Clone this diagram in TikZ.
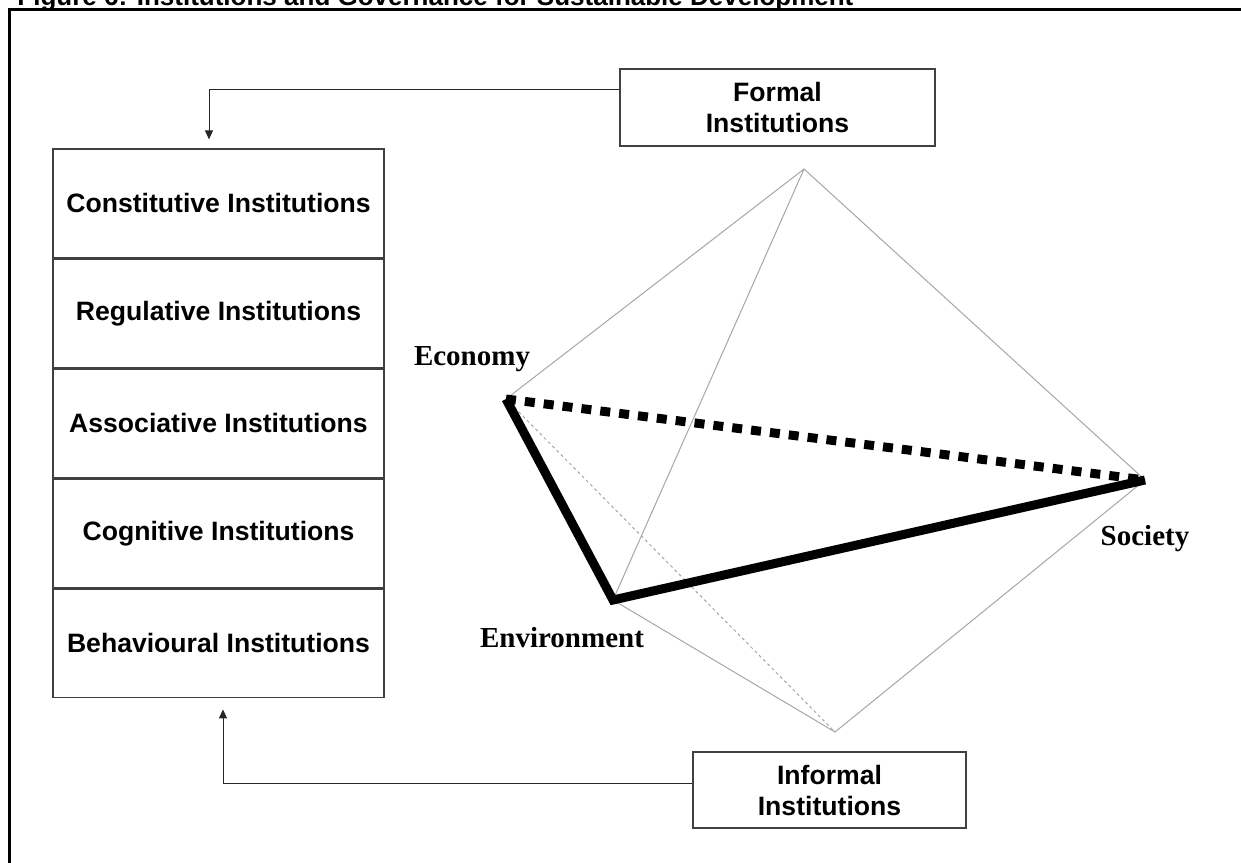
\documentclass[tikz,border=0pt]{standalone}
\usepackage{fontspec}
\setmainfont{Liberation Serif}
\setsansfont{Liberation Sans}
\usetikzlibrary{positioning,arrows.meta}
\tikzset{
  instbox/.style={draw=black!75, line width=0.6pt, minimum width=165.5pt, minimum height=54.4pt,
    inner sep=0pt, font=\sffamily\bfseries\fontsize{13.3}{15.5}\selectfont},
  sidebox/.style={draw=black!75, line width=0.6pt, inner sep=0pt, align=center,
    font=\sffamily\bfseries\fontsize{13.3}{15.5}\selectfont},
  flow/.style={draw=black!85, line width=0.5pt, -{Triangle[length=4.5pt,width=4pt]}},
  edgethin/.style={draw=black!35, line width=0.5pt},
  edgethick/.style={line width=4.5pt, line cap=butt},
  pole/.style={font=\rmfamily\bfseries\fontsize{14.5}{17}\selectfont, inner sep=0pt, anchor=base},
}
\begin{document}
\begin{tikzpicture}[x=0.5pt,y=-0.5pt]
\useasboundingbox (0,0) rectangle (1241,862);
\begin{scope}
  \clip (0,0) rectangle (1241,862);
  % caption, cut at the top edge as in the scan
  \node[anchor=base west, inner sep=0pt, font=\sffamily\bfseries\fontsize{13}{15}\selectfont]
    (title) at (17,5) {Figure 6: Institutions and Governance for Sustainable Development};
  \draw[line width=1.5pt] (9,9) rectangle (1300,900);
\end{scope}

% stack of institutions
\node[instbox] (cons) at (218.5,203.4) {Constitutive Institutions};
\node[instbox, below=0pt of cons] (regu) {Regulative Institutions};
\node[instbox, below=0pt of regu] (asso) {Associative Institutions};
\node[instbox, below=0pt of asso] (cogn) {Cognitive Institutions};
\node[instbox, below=0pt of cogn] (beha) {Behavioural Institutions};

\node[sidebox, minimum width=157.5pt, minimum height=38.5pt] (formal) at (777.5,107.5) {Formal\\Institutions};
\node[sidebox, minimum width=136.5pt, minimum height=38pt] (informal) at (829.5,790) {Informal\\Institutions};

\draw[flow] ([yshift=9.25pt]formal.west) -| ([xshift=-4.75pt,yshift=4.5pt]cons.north);
\draw[flow] ([yshift=3.5pt]informal.west) -| ([xshift=2.25pt,yshift=-5.5pt]beha.south);

% octahedron
\coordinate (top) at (804,169);
\coordinate (eco) at (506,399);
\coordinate (soc) at (1145,480);
\coordinate (env) at (613,600);
\coordinate (bot) at (835,732);

\draw[edgethin] (eco) -- (top) -- (soc) -- (bot) -- (env) -- (top);
\draw[edgethin, dash pattern=on 1.5pt off 1.5pt] (eco) -- (bot);
\draw[edgethick, dash pattern=on 5pt off 4.5pt] (eco) -- (soc);
\draw[edgethick, line join=miter] (eco) -- (env) -- (soc);

\node[pole] (ecol) at (472,365) {Economy};
\node[pole] (envl) at (562,647) {Environment};
\node[pole] (socl) at (1145,545) {Society};
\end{tikzpicture}
\end{document}
